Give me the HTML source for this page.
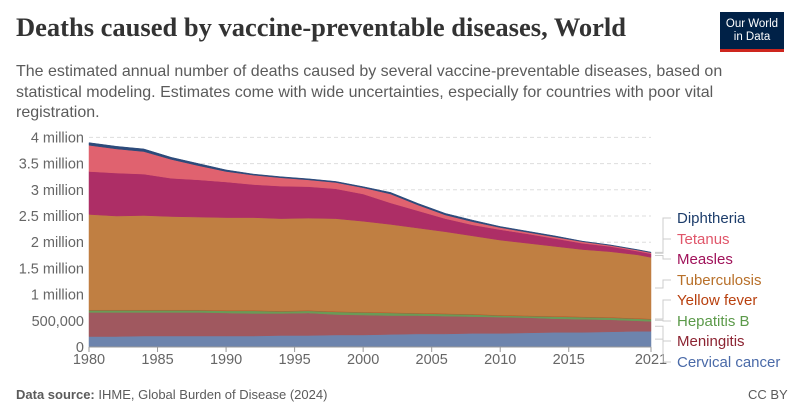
<!DOCTYPE html>
<html><head><meta charset="utf-8"><style>
body{margin:0;background:#fff;font-family:"Liberation Sans",sans-serif}
#wrap{position:relative;width:800px;height:418px;overflow:hidden}
.t{position:absolute;white-space:nowrap}
</style></head><body>
<div id="wrap">
<div class="t" style="left:16px;top:12px;font-family:'Liberation Serif',serif;font-weight:bold;font-size:26.5px;color:#333">Deaths caused by vaccine-preventable diseases, World</div>
<div style="position:absolute;left:720px;top:12px;width:64px;height:40px;background:#002147;border-bottom:3px solid #ce261e;box-sizing:border-box;color:#fff;font-size:11.5px;line-height:13px;text-align:center;padding-top:6px">Our World<br>in Data</div>
<div class="t" style="left:16px;top:62px;font-size:16px;line-height:20.5px;color:#5b5b5b;white-space:normal;width:775px">The estimated annual number of deaths caused by several vaccine-preventable diseases, based on statistical modeling. Estimates come with wide uncertainties, especially for countries with poor vital registration.</div>
<svg id="chart" width="800" height="418" style="position:absolute;left:0;top:0"></svg>
<div class="t" style="left:16px;top:387px;font-size:13px;color:#5b5b5b"><b>Data source:</b> IHME, Global Burden of Disease (2024)</div>
<div class="t" style="left:748px;top:387px;font-size:13px;color:#5b5b5b">CC BY</div>
</div>
<script>
const years=[1980,1982,1984,1986,1988,1990,1992,1994,1996,1998,2000,2002,2004,2006,2008,2010,2012,2014,2016,2018,2020,2021];
const cervical=[0.20,0.20,0.21,0.21,0.21,0.21,0.21,0.22,0.22,0.23,0.23,0.24,0.25,0.25,0.26,0.26,0.27,0.28,0.28,0.29,0.30,0.30];
const meningitis=[0.46,0.46,0.45,0.45,0.45,0.44,0.43,0.42,0.43,0.39,0.38,0.36,0.35,0.34,0.32,0.31,0.29,0.26,0.25,0.23,0.20,0.19];
const hepatitisB=[0.04,0.04,0.04,0.04,0.04,0.04,0.05,0.04,0.04,0.05,0.05,0.05,0.04,0.04,0.04,0.03,0.03,0.04,0.04,0.04,0.04,0.04];
const yellowFever=[0.01,0.01,0.01,0.01,0.01,0.01,0.01,0.01,0.01,0.01,0.01,0.01,0.01,0.01,0.01,0.01,0.01,0.01,0.01,0.01,0.01,0.01];
const tuberculosis=[1.82,1.79,1.80,1.78,1.77,1.77,1.77,1.76,1.76,1.77,1.73,1.68,1.62,1.56,1.49,1.43,1.38,1.33,1.28,1.25,1.21,1.17];
const measles=[0.82,0.82,0.79,0.73,0.71,0.68,0.63,0.62,0.60,0.57,0.52,0.41,0.33,0.25,0.21,0.20,0.18,0.15,0.12,0.10,0.07,0.07];
const tetanus=[0.50,0.46,0.43,0.36,0.27,0.20,0.18,0.16,0.13,0.12,0.12,0.17,0.11,0.07,0.06,0.04,0.03,0.03,0.03,0.02,0.02,0.02];
const diphtheria=[0.05,0.05,0.05,0.04,0.04,0.03,0.02,0.02,0.02,0.02,0.02,0.03,0.03,0.03,0.03,0.02,0.02,0.02,0.01,0.01,0.01,0.01];
const seriesNames=["Cervical cancer","Meningitis","Hepatitis B","Yellow fever","Tuberculosis","Measles","Tetanus","Diphtheria"];
const yTicks=[0,0.5,1,1.5,2,2.5,3,3.5,4];
const yTickLabels=["0","500,000","1 million","1.5 million","2 million","2.5 million","3 million","3.5 million","4 million"];
const xTicks=[1980,1985,1990,1995,2000,2005,2010,2015,2021];

const series=[cervical,meningitis,hepatitisB,yellowFever,tuberculosis,measles,tetanus,diphtheria];
const fills=["#6d84ad","#a0585f","#6a9b57","#b5542c","#c07f42","#ad2e66","#e0626f","#2c4a7a"];
const textCols=["#4a6aa8","#8c2432","#5c9a4a","#b8400e","#b8702a","#a0125a","#e0566a","#1d3d6b"];
const svg=document.getElementById('chart');const NS="http://www.w3.org/2000/svg";
const X0=89,X1=651,Y0=347,PPM=52.4;
const xs=y=>X0+(y-1980)/(2021-1980)*(X1-X0);
const ys=v=>Y0-v*PPM;
function mk(t,a){const e=document.createElementNS(NS,t);for(const k in a)e.setAttribute(k,a[k]);svg.appendChild(e);return e;}
yTicks.forEach((v,i)=>{
  if(v>0){const g=mk('line',{x1:X0,x2:X1,y1:ys(v),y2:ys(v),stroke:'#ddd','stroke-dasharray':'4,3'});
  
  }
  const t=mk('text',{x:84,y:ys(v)+5,'text-anchor':'end','font-size':14.5,fill:'#666','font-family':'Liberation Sans'});t.textContent=yTickLabels[i];
  
  
});
let base=years.map(()=>0);
series.forEach((s,i)=>{
  const top=base.map((b,j)=>b+s[j]);
  let d='M'+years.map((y,j)=>xs(y)+','+ys(top[j])).join('L');
  for(let j=years.length-1;j>=0;j--)d+='L'+xs(years[j])+','+ys(base[j]);
  const p=mk('path',{d:d+'Z',fill:fills[i],stroke:fills[i],'stroke-width':0.5});
  
  
  base=top;
});
mk('line',{x1:X0,x2:X1,y1:Y0,y2:Y0,stroke:'#999'});
xTicks.forEach(y=>{
  mk('line',{x1:xs(y),x2:xs(y),y1:Y0,y2:Y0+5,stroke:'#999'});
  const t=mk('text',{x:xs(y),y:Y0+17,'text-anchor':'middle','font-size':14.5,fill:'#666','font-family':'Liberation Sans'});t.textContent=y;
  
  
});
const legendYs=[367,346,326,305,285,264,244,223];
let cum=0;
series.forEach((s,i)=>{
  const mid=cum+s[s.length-1]/2;cum+=s[s.length-1];
  const ay=ys(mid),ly=legendYs[i]-5;
  mk('path',{d:`M${X1+4},${ay}H${X1+12}V${ly}H${X1+20}`,fill:'none',stroke:'#ccc'});
  const t=mk('text',{x:677,y:legendYs[i],'font-size':15,fill:textCols[i],'font-family':'Liberation Sans'});t.textContent=seriesNames[i];
  
  
});
</script>
</body></html>
